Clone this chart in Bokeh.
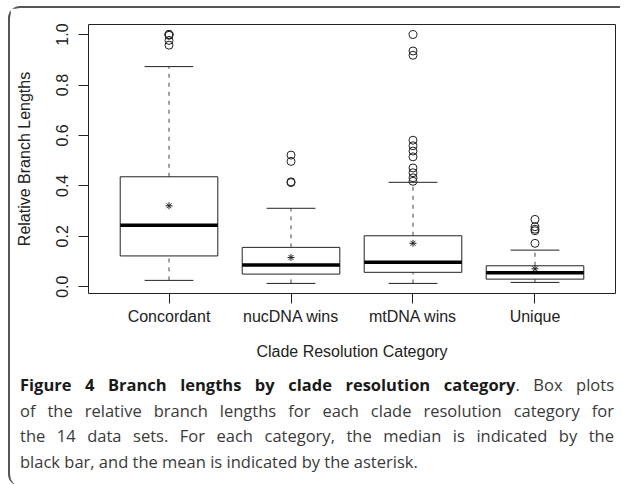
from bokeh.plotting import figure
from bokeh.models import ColumnDataSource, FactorRange, Range1d, FixedTicker, Div
from bokeh.transform import dodge
from bokeh.layouts import column
from bokeh.embed import file_html
from bokeh.resources import INLINE

# ---- data ----
categories = ["Concordant", "nucDNA wins", "mtDNA wins", "Unique"]
lower_whisker = [0.025, 0.013, 0.013, 0.017]
q1 = [0.122, 0.050, 0.057, 0.030]
median = [0.244, 0.086, 0.097, 0.055]
q3 = [0.436, 0.156, 0.202, 0.083]
upper_whisker = [0.873, 0.311, 0.414, 0.145]
mean = [0.321, 0.116, 0.172, 0.071]
outliers_concordant = [1.0, 1.0, 0.997, 0.977, 0.958]
outliers_nuc = [0.522, 0.497, 0.416, 0.413]
outliers_mt = [1.0, 0.935, 0.918, 0.581, 0.559, 0.538, 0.515, 0.471, 0.452, 0.432, 0.418]
outliers_unique = [0.267, 0.238, 0.228, 0.222, 0.172]
y_ticks = [0.0, 0.2, 0.4, 0.6, 0.8, 1.0]
y_tick_labels = ["0.0", "0.2", "0.4", "0.6", "0.8", "1.0"]

INK = "#222222"
FONT = "Liberation Sans"

src = ColumnDataSource(dict(cat=categories, lo=lower_whisker, q1=q1, med=median,
                            q3=q3, hi=upper_whisker, mean=mean))
out_x, out_y = [], []
for c, vals in zip(categories, [outliers_concordant, outliers_nuc, outliers_mt, outliers_unique]):
    out_x += [c] * len(vals)
    out_y += vals
out_src = ColumnDataSource(dict(x=out_x, y=out_y))

p = figure(x_range=FactorRange(*categories, range_padding=0.16, range_padding_units="absolute"),
           y_range=Range1d(-0.027, 1.04),
           width=607, height=355, output_backend="svg", toolbar_location=None,
           min_border_left=78, min_border_right=2, min_border_top=16, min_border_bottom=70)
p.grid.visible = False
p.background_fill_color = "white"
p.border_fill_color = "white"
p.outline_line_color = INK
p.outline_line_width = 1

# whiskers (dashed)
p.segment(x0="cat", y0="q3", x1="cat", y1="hi", source=src, line_color="#444444",
          line_dash="4 5", line_width=1)
p.segment(x0="cat", y0="lo", x1="cat", y1="q1", source=src, line_color="#444444",
          line_dash="4 5", line_width=1)
# staples
for col in ("hi", "lo"):
    p.segment(x0=dodge("cat", -0.2, range=p.x_range), y0=col,
              x1=dodge("cat", 0.2, range=p.x_range), y1=col,
              source=src, line_color=INK, line_width=1)
# boxes
p.vbar(x="cat", width=0.8, bottom="q1", top="q3", source=src,
       fill_color="white", line_color=INK, line_width=1)
# medians
p.segment(x0=dodge("cat", -0.4, range=p.x_range), y0="med",
          x1=dodge("cat", 0.4, range=p.x_range), y1="med",
          source=src, line_color="black", line_width=3.5, line_cap="butt")
# means
p.scatter(x="cat", y="mean", source=src, marker="asterisk", size=7,
          line_color=INK, line_width=1)
# outliers
p.scatter(x="x", y="y", source=out_src, marker="circle", size=8,
          fill_color=None, line_color=INK, line_width=1)

# axes
p.yaxis.ticker = FixedTicker(ticks=y_ticks)
p.yaxis.major_label_overrides = {t: l for t, l in zip(y_ticks, y_tick_labels)}
p.yaxis.major_label_orientation = "vertical"
p.yaxis.axis_label = "Relative Branch Lengths"
p.xaxis.axis_label = "Clade Resolution Category"
for ax in (p.xaxis[0], p.yaxis[0]):
    ax.axis_line_color = None
    ax.major_tick_in = 0
    ax.major_tick_out = 10
    ax.minor_tick_line_color = None
    ax.major_tick_line_color = INK
    ax.major_label_text_font = FONT
    ax.major_label_text_font_size = "16px"
    ax.major_label_text_color = INK
    ax.axis_label_text_font = FONT
    ax.axis_label_text_font_size = "16px"
    ax.axis_label_text_font_style = "normal"
    ax.axis_label_text_color = INK
p.yaxis.major_label_standoff = 10
p.yaxis.axis_label_standoff = 21
p.xaxis.major_label_standoff = 4
p.xaxis.axis_label_standoff = 15

line_style = "text-align: justify; text-align-last: justify; width: 594px;"
caption = (
    '<div style="font-family: \'Open Sans\'; font-size: 16.5px; line-height: 25.5px; '
    'color: #3a3a3a; width: 594px;">'
    f'<div style="{line_style}"><b style="color:#1a1a1a">Figure 4 Branch lengths by clade resolution category</b>. Box plots</div>'
    f'<div style="{line_style}">of the relative branch lengths for each clade resolution category for</div>'
    f'<div style="{line_style}">the 14 data sets. For each category, the median is indicated by the</div>'
    '<div style="text-align: left;">black bar, and the mean is indicated by the asterisk.</div>'
    '</div>'
)
div = Div(text=caption, width=600, height=113,
          styles={"padding-left": "5px", "padding-top": "4px"})

layout = column(p, div, width=612,
                styles={"border-top": "2px solid #555555", "border-left": "2px solid #555555",
                        "border-top-left-radius": "12px", "border-bottom-left-radius": "12px",
                        "margin-left": "8px", "margin-top": "6px",
                        "background": "white"})

open("out.html", "w").write(file_html(layout, INLINE))
